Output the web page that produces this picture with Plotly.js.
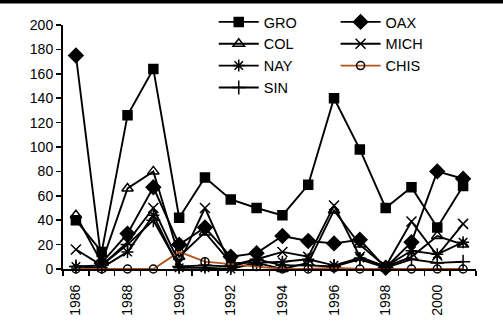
<!DOCTYPE html>
<html>
<head>
<meta charset="utf-8">
<script src="https://cdn.plot.ly/plotly-3.0.1.min.js"></script>
<style>html,body{margin:0;padding:0;background:#fff;}#chart{width:503px;height:323px;}</style>
</head>
<body>
<div id="chart"></div>
<script>
var years = [1986,1987,1988,1989,1990,1991,1992,1993,1994,1995,1996,1997,1998,1999,2000,2001];
var tickYears = [1986,1988,1990,1992,1994,1996,1998,2000];
var GRO  = [40, 14, 126, 164, 42, 75, 57, 50, 44, 69, 140, 98, 50, 67, 34, 68];
var OAX  = [175, 5, 29, 67, 20, 34, 10, 13, 27, 23, 21, 24, 1, 22, 80, 74];
var COL  = [44, 5, 66, 80, 10, 30, 5, 5, 0, 5, 48, 20, 2, 10, 27, 20];
var MICH = [16, 3, 22, 50, 5, 50, 3, 8, 14, 10, 52, 10, 2, 39, 11, 37];
var NAY  = [2, 1, 14, 44, 1, 1, 0, 5, 6, 8, 3, 9, 2, 15, 12, 22];
var CHIS = [0, 0, 0, 0, 14, 6, 4, 2, 0, 0, 1, 0, 0, 0, 0, 0];
var SIN  = [2, 3, 20, 40, 2, 3, 2, 8, 3, 3, 2, 8, 1, 8, 5, 6];

function tr(name, y, symbol, size, legend, lineColor) {
  return {
    x: years, y: y, name: name, type: 'scatter', mode: 'lines+markers',
    legend: legend,
    line: {color: lineColor || '#000', width: 1.9},
    marker: {symbol: symbol, size: size, color: '#000',
             line: {color: '#000', width: 1.5}},
    cliponaxis: false
  };
}
var data = [
  tr('GRO', GRO, 'square', 9, 'legend'),
  tr('OAX', OAX, 'diamond', 11, 'legend2'),
  tr('COL', COL, 'triangle-up-open', 10, 'legend'),
  tr('MICH', MICH, 'x-thin-open', 10, 'legend2'),
  tr('NAY', NAY, 'asterisk-open', 10, 'legend'),
  tr('CHIS', CHIS, 'circle-open', 8, 'legend2', '#b5541e'),
  tr('SIN', SIN, 'cross-thin-open', 10, 'legend')
];
var font = {family: 'Arial, "Liberation Sans", sans-serif', size: 14, color: '#000'};
var lfont = {family: font.family, size: 14.5, color: '#000'};
var layout = {
  width: 503, height: 323,
  margin: {l: 63, r: 27, t: 25, b: 54, pad: 0, autoexpand: false},
  paper_bgcolor: '#fff', plot_bgcolor: '#fff',
  font: font,
  showlegend: true,
  legend: {x: 0.365, y: 1.078, xanchor: 'left', yanchor: 'top', bgcolor: 'rgba(0,0,0,0)',
           font: lfont, tracegroupgap: 0, itemwidth: 40, borderwidth: 0},
  legend2: {x: 0.66, y: 1.078, xanchor: 'left', yanchor: 'top', bgcolor: 'rgba(0,0,0,0)',
           font: lfont, tracegroupgap: 0, itemwidth: 40, borderwidth: 0},
  xaxis: {
    type: 'linear', range: [1985.5, 2001.5],
    tickmode: 'array', tickvals: tickYears, ticktext: tickYears.map(String),
    tickangle: -90, ticks: '', ticklabelstandoff: 8, showgrid: false, zeroline: false,
    showline: true, linecolor: '#000', linewidth: 2,
    tickfont: font, automargin: false,
    minor: {tick0: 1985.5, dtick: 1, ticks: 'outside', ticklen: 5, tickwidth: 1.5, tickcolor: '#000', showgrid: false}
  },
  yaxis: {
    range: [0, 200], dtick: 20, ticks: 'outside', ticklen: 5, tickwidth: 1.5, tickcolor: '#000',
    showgrid: false, zeroline: false, showline: true, linecolor: '#000', linewidth: 2,
    tickfont: font, automargin: false
  },
  shapes: [{type: 'rect', xref: 'paper', yref: 'paper', x0: -0.16, x1: 1.07, y0: 1.088, y1: 1.11,
            fillcolor: '#000', line: {width: 0}}]
};
Plotly.newPlot('chart', data, layout, {displayModeBar: false, staticPlot: true});
</script>
</body>
</html>
